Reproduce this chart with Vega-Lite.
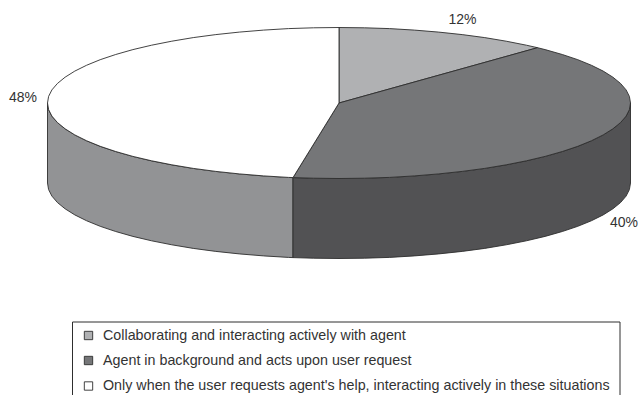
{
  "$schema": "https://vega.github.io/schema/vega-lite/v6.json",
  "width": 640,
  "height": 395,
  "padding": 0,
  "autosize": {"type": "none"},
  "background": "white",
  "config": {"view": {"stroke": null}},
  "datasets": {
    "pie": [
      {"part":"side-left","seq":1,"x":293,"y":177.6},{"part":"side-left","seq":2,"x":288.4,"y":177.4},{"part":"side-left","seq":3,"x":263.6,"y":175.9},{"part":"side-left","seq":4,"x":239.3,"y":173.9},{"part":"side-left","seq":5,"x":215.8,"y":171.4},{"part":"side-left","seq":6,"x":193.25,"y":168.4},{"part":"side-left","seq":7,"x":171.8,"y":164.8},{"part":"side-left","seq":8,"x":151.6,"y":160.8},{"part":"side-left","seq":9,"x":132.9,"y":156.4},{"part":"side-left","seq":10,"x":115.7,"y":151.5},{"part":"side-left","seq":11,"x":100.2,"y":146.3},{"part":"side-left","seq":12,"x":86.6,"y":140.75},{"part":"side-left","seq":13,"x":74.8,"y":134.9},{"part":"side-left","seq":14,"x":65.1,"y":128.8},{"part":"side-left","seq":15,"x":57.4,"y":122.5},{"part":"side-left","seq":16,"x":51.9,"y":116.1},{"part":"side-left","seq":17,"x":48.6,"y":109.6},{"part":"side-left","seq":18,"x":47.5,"y":103},
      {"part":"side-left","seq":19,"x":47.5,"y":183},{"part":"side-left","seq":20,"x":48.6,"y":189.6},{"part":"side-left","seq":21,"x":51.9,"y":196.1},{"part":"side-left","seq":22,"x":57.4,"y":202.5},{"part":"side-left","seq":23,"x":65.1,"y":208.8},{"part":"side-left","seq":24,"x":74.8,"y":214.9},{"part":"side-left","seq":25,"x":86.6,"y":220.75},{"part":"side-left","seq":26,"x":100.2,"y":226.3},{"part":"side-left","seq":27,"x":115.7,"y":231.5},{"part":"side-left","seq":28,"x":132.9,"y":236.4},{"part":"side-left","seq":29,"x":151.6,"y":240.8},{"part":"side-left","seq":30,"x":171.8,"y":244.8},{"part":"side-left","seq":31,"x":193.25,"y":248.4},{"part":"side-left","seq":32,"x":215.8,"y":251.4},{"part":"side-left","seq":33,"x":239.3,"y":253.9},{"part":"side-left","seq":34,"x":263.6,"y":255.9},{"part":"side-left","seq":35,"x":288.4,"y":257.4},{"part":"side-left","seq":36,"x":293,"y":257.6},{"part":"side-left","seq":37,"x":293,"y":177.6},

      {"part":"side-right","seq":1,"x":630.5,"y":103},{"part":"side-right","seq":2,"x":629.4,"y":109.6},{"part":"side-right","seq":3,"x":626.1,"y":116.1},{"part":"side-right","seq":4,"x":620.6,"y":122.5},{"part":"side-right","seq":5,"x":612.9,"y":128.8},{"part":"side-right","seq":6,"x":603.2,"y":134.9},{"part":"side-right","seq":7,"x":591.4,"y":140.75},{"part":"side-right","seq":8,"x":577.8,"y":146.3},{"part":"side-right","seq":9,"x":562.3,"y":151.5},{"part":"side-right","seq":10,"x":545.1,"y":156.4},{"part":"side-right","seq":11,"x":526.4,"y":160.8},{"part":"side-right","seq":12,"x":506.2,"y":164.8},{"part":"side-right","seq":13,"x":484.75,"y":168.4},{"part":"side-right","seq":14,"x":462.2,"y":171.4},{"part":"side-right","seq":15,"x":438.7,"y":173.9},{"part":"side-right","seq":16,"x":414.4,"y":175.9},{"part":"side-right","seq":17,"x":389.6,"y":177.4},{"part":"side-right","seq":18,"x":364.4,"y":178.2},{"part":"side-right","seq":19,"x":339,"y":178.5},{"part":"side-right","seq":20,"x":313.6,"y":178.2},{"part":"side-right","seq":21,"x":293,"y":177.6},
      {"part":"side-right","seq":22,"x":293,"y":257.6},{"part":"side-right","seq":23,"x":313.6,"y":258.2},{"part":"side-right","seq":24,"x":339,"y":258.5},{"part":"side-right","seq":25,"x":364.4,"y":258.2},{"part":"side-right","seq":26,"x":389.6,"y":257.4},{"part":"side-right","seq":27,"x":414.4,"y":255.9},{"part":"side-right","seq":28,"x":438.7,"y":253.9},{"part":"side-right","seq":29,"x":462.2,"y":251.4},{"part":"side-right","seq":30,"x":484.75,"y":248.4},{"part":"side-right","seq":31,"x":506.2,"y":244.8},{"part":"side-right","seq":32,"x":526.4,"y":240.8},{"part":"side-right","seq":33,"x":545.1,"y":236.4},{"part":"side-right","seq":34,"x":562.3,"y":231.5},{"part":"side-right","seq":35,"x":577.8,"y":226.3},{"part":"side-right","seq":36,"x":591.4,"y":220.75},{"part":"side-right","seq":37,"x":603.2,"y":214.9},{"part":"side-right","seq":38,"x":612.9,"y":208.8},{"part":"side-right","seq":39,"x":620.6,"y":202.5},{"part":"side-right","seq":40,"x":626.1,"y":196.1},{"part":"side-right","seq":41,"x":629.4,"y":189.6},{"part":"side-right","seq":42,"x":630.5,"y":183},{"part":"side-right","seq":43,"x":630.5,"y":103},

      {"part":"top-collab","seq":1,"x":339,"y":103},{"part":"top-collab","seq":2,"x":339,"y":27.5},{"part":"top-collab","seq":3,"x":364.4,"y":27.8},{"part":"top-collab","seq":4,"x":389.6,"y":28.6},{"part":"top-collab","seq":5,"x":414.4,"y":30.1},{"part":"top-collab","seq":6,"x":438.7,"y":32.1},{"part":"top-collab","seq":7,"x":462.2,"y":34.6},{"part":"top-collab","seq":8,"x":484.75,"y":37.6},{"part":"top-collab","seq":9,"x":506.2,"y":41.2},{"part":"top-collab","seq":10,"x":526.4,"y":45.2},{"part":"top-collab","seq":11,"x":537.5,"y":47.7},{"part":"top-collab","seq":12,"x":339,"y":103},

      {"part":"top-agent","seq":1,"x":339,"y":103},{"part":"top-agent","seq":2,"x":537.5,"y":47.7},{"part":"top-agent","seq":3,"x":545.1,"y":49.6},{"part":"top-agent","seq":4,"x":562.3,"y":54.5},{"part":"top-agent","seq":5,"x":577.8,"y":59.7},{"part":"top-agent","seq":6,"x":591.4,"y":65.25},{"part":"top-agent","seq":7,"x":603.2,"y":71.1},{"part":"top-agent","seq":8,"x":612.9,"y":77.2},{"part":"top-agent","seq":9,"x":620.6,"y":83.5},{"part":"top-agent","seq":10,"x":626.1,"y":89.9},{"part":"top-agent","seq":11,"x":629.4,"y":96.4},{"part":"top-agent","seq":12,"x":630.5,"y":103},{"part":"top-agent","seq":13,"x":629.4,"y":109.6},{"part":"top-agent","seq":14,"x":626.1,"y":116.1},{"part":"top-agent","seq":15,"x":620.6,"y":122.5},{"part":"top-agent","seq":16,"x":612.9,"y":128.8},{"part":"top-agent","seq":17,"x":603.2,"y":134.9},{"part":"top-agent","seq":18,"x":591.4,"y":140.75},{"part":"top-agent","seq":19,"x":577.8,"y":146.3},{"part":"top-agent","seq":20,"x":562.3,"y":151.5},{"part":"top-agent","seq":21,"x":545.1,"y":156.4},{"part":"top-agent","seq":22,"x":526.4,"y":160.8},{"part":"top-agent","seq":23,"x":506.2,"y":164.8},{"part":"top-agent","seq":24,"x":484.75,"y":168.4},{"part":"top-agent","seq":25,"x":462.2,"y":171.4},{"part":"top-agent","seq":26,"x":438.7,"y":173.9},{"part":"top-agent","seq":27,"x":414.4,"y":175.9},{"part":"top-agent","seq":28,"x":389.6,"y":177.4},{"part":"top-agent","seq":29,"x":364.4,"y":178.2},{"part":"top-agent","seq":30,"x":339,"y":178.5},{"part":"top-agent","seq":31,"x":313.6,"y":178.2},{"part":"top-agent","seq":32,"x":293,"y":177.6},{"part":"top-agent","seq":33,"x":339,"y":103},

      {"part":"top-only","seq":1,"x":339,"y":103},{"part":"top-only","seq":2,"x":293,"y":177.6},{"part":"top-only","seq":3,"x":288.4,"y":177.4},{"part":"top-only","seq":4,"x":263.6,"y":175.9},{"part":"top-only","seq":5,"x":239.3,"y":173.9},{"part":"top-only","seq":6,"x":215.8,"y":171.4},{"part":"top-only","seq":7,"x":193.25,"y":168.4},{"part":"top-only","seq":8,"x":171.8,"y":164.8},{"part":"top-only","seq":9,"x":151.6,"y":160.8},{"part":"top-only","seq":10,"x":132.9,"y":156.4},{"part":"top-only","seq":11,"x":115.7,"y":151.5},{"part":"top-only","seq":12,"x":100.2,"y":146.3},{"part":"top-only","seq":13,"x":86.6,"y":140.75},{"part":"top-only","seq":14,"x":74.8,"y":134.9},{"part":"top-only","seq":15,"x":65.1,"y":128.8},{"part":"top-only","seq":16,"x":57.4,"y":122.5},{"part":"top-only","seq":17,"x":51.9,"y":116.1},{"part":"top-only","seq":18,"x":48.6,"y":109.6},{"part":"top-only","seq":19,"x":47.5,"y":103},{"part":"top-only","seq":20,"x":48.6,"y":96.4},{"part":"top-only","seq":21,"x":51.9,"y":89.9},{"part":"top-only","seq":22,"x":57.4,"y":83.5},{"part":"top-only","seq":23,"x":65.1,"y":77.2},{"part":"top-only","seq":24,"x":74.8,"y":71.1},{"part":"top-only","seq":25,"x":86.6,"y":65.25},{"part":"top-only","seq":26,"x":100.2,"y":59.7},{"part":"top-only","seq":27,"x":115.7,"y":54.5},{"part":"top-only","seq":28,"x":132.9,"y":49.6},{"part":"top-only","seq":29,"x":151.6,"y":45.2},{"part":"top-only","seq":30,"x":171.8,"y":41.2},{"part":"top-only","seq":31,"x":193.25,"y":37.6},{"part":"top-only","seq":32,"x":215.8,"y":34.6},{"part":"top-only","seq":33,"x":239.3,"y":32.1},{"part":"top-only","seq":34,"x":263.6,"y":30.1},{"part":"top-only","seq":35,"x":288.4,"y":28.6},{"part":"top-only","seq":36,"x":313.6,"y":27.8},{"part":"top-only","seq":37,"x":339,"y":27.5},{"part":"top-only","seq":38,"x":339,"y":103}
    ],
    "shares": [
      {"share":0.12,"x":462.5,"y":19.5},
      {"share":0.48,"x":23,"y":97.5},
      {"share":0.40,"x":624,"y":223}
    ],
    "frame": [
      {"seq":1,"x":72.5,"y":396},
      {"seq":2,"x":72.5,"y":322},
      {"seq":3,"x":620,"y":322},
      {"seq":4,"x":620,"y":396}
    ],
    "legend": [
      {"part":"top-collab","label":"Collaborating and interacting actively with agent","x":88.5,"tx":103,"y":335.5},
      {"part":"top-agent","label":"Agent in background and acts upon user request","x":88.5,"tx":103,"y":360.5},
      {"part":"top-only","label":"Only when the user requests agent's help, interacting actively in these situations","x":88.5,"tx":103,"y":386}
    ]
  },
  "layer": [
    {
      "data": {"name": "pie"},
      "mark": {"type": "line", "stroke": "#2e2e2e", "strokeWidth": 0.9, "strokeJoin": "round"},
      "encoding": {
        "x": {"field": "x", "type": "quantitative", "scale": {"domain": [0, 640], "nice": false, "zero": false}, "axis": null},
        "y": {"field": "y", "type": "quantitative", "scale": {"domain": [395, 0], "nice": false, "zero": false}, "axis": null},
        "order": {"field": "seq", "type": "quantitative"},
        "detail": {"field": "part", "type": "nominal"},
        "fill": {
          "field": "part",
          "type": "nominal",
          "legend": null,
          "scale": {
            "domain": ["side-left", "side-right", "top-collab", "top-agent", "top-only"],
            "range": ["#929395", "#525254", "#b0b1b3", "#757678", "#ffffff"]
          }
        }
      }
    },
    {
      "data": {"name": "shares"},
      "mark": {"type": "text", "font": "Liberation Sans", "fontSize": 14, "color": "#333333", "align": "center", "baseline": "middle"},
      "encoding": {
        "x": {"field": "x", "type": "quantitative"},
        "y": {"field": "y", "type": "quantitative"},
        "text": {"field": "share", "type": "quantitative", "format": ".0%"}
      }
    },
    {
      "data": {"name": "frame"},
      "mark": {"type": "line", "stroke": "#2e2e2e", "strokeWidth": 1, "clip": true},
      "encoding": {
        "x": {"field": "x", "type": "quantitative"},
        "y": {"field": "y", "type": "quantitative"},
        "order": {"field": "seq", "type": "quantitative"}
      }
    },
    {
      "data": {"name": "legend"},
      "mark": {"type": "point", "shape": "square", "filled": true, "opacity": 1, "size": 70, "stroke": "#2e2e2e", "strokeWidth": 0.9},
      "encoding": {
        "x": {"field": "x", "type": "quantitative"},
        "y": {"field": "y", "type": "quantitative"},
        "fill": {"field": "part", "type": "nominal", "legend": null}
      }
    },
    {
      "data": {"name": "legend"},
      "mark": {"type": "text", "font": "Liberation Sans", "fontSize": 14.3, "color": "#333333", "align": "left", "baseline": "middle"},
      "encoding": {
        "x": {"field": "tx", "type": "quantitative"},
        "y": {"field": "y", "type": "quantitative"},
        "text": {"field": "label", "type": "nominal"}
      }
    }
  ]
}
